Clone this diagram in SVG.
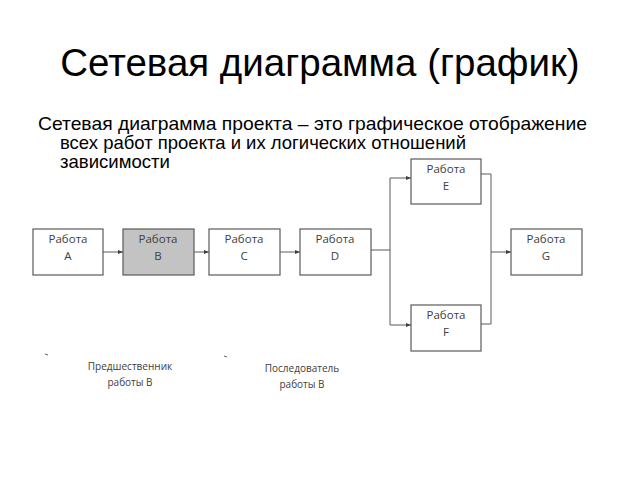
<svg xmlns="http://www.w3.org/2000/svg" width="640" height="480" viewBox="0 0 640 480">
<defs>
<style>
.box{fill:#ffffff;stroke:#5a5a5a;stroke-width:1.2}
.sel{fill:#c3c3c3}
.lbl{font-family:"Open Sans","Liberation Sans",sans-serif;font-size:11.5px;fill:#404040;text-anchor:middle}
.conn{fill:none;stroke:#5a5a5a;stroke-width:1}
.note{font-family:"Open Sans","Liberation Sans",sans-serif;font-size:10px;fill:#404040;text-anchor:middle}
.body{font-family:"Liberation Sans",Arial,sans-serif;font-size:19px;fill:#000}
</style>
<marker id="arr" markerWidth="6" markerHeight="6" refX="5" refY="3" orient="auto" markerUnits="userSpaceOnUse">
<path d="M0,1 L5,3 L0,5 Z" fill="#404040"/>
</marker>
</defs>
<rect width="640" height="480" fill="#ffffff"/>
<text x="320" y="76" font-family="Liberation Sans,Arial,sans-serif" font-size="38.5" text-anchor="middle" fill="#000">Сетевая диаграмма (график)</text>
<text class="body" x="38" y="130" textLength="549" lengthAdjust="spacingAndGlyphs">Сетевая диаграмма проекта – это графическое отображение</text>
<text class="body" x="60" y="149" textLength="406" lengthAdjust="spacingAndGlyphs">всех работ проекта и их логических отношений</text>
<text class="body" x="60" y="168" textLength="110" lengthAdjust="spacingAndGlyphs">зависимости</text>
<g id="connectors">
<line class="conn" x1="103" y1="252" x2="123" y2="252" marker-end="url(#arr)"/>
<line class="conn" x1="194" y1="252" x2="209" y2="252" marker-end="url(#arr)"/>
<line class="conn" x1="280" y1="252" x2="300" y2="252" marker-end="url(#arr)"/>
<polyline class="conn" points="371,250 390,250 390,178 411,178" marker-end="url(#arr)"/>
<polyline class="conn" points="390,250 390,325 411,325" marker-end="url(#arr)"/>
<polyline class="conn" points="481,174 491,174 491,324 481,324"/>
<line class="conn" x1="491" y1="252" x2="511" y2="252" marker-end="url(#arr)"/>
</g>
<g id="nodeA"><rect class="box" x="33" y="229" width="70" height="46"/><text class="lbl" x="68" y="243">Работа</text><text class="lbl" x="68" y="260">A</text></g>
<g id="nodeB"><rect class="box sel" x="123" y="229" width="71" height="46"/><text class="lbl" x="158" y="243">Работа</text><text class="lbl" x="158" y="260">B</text></g>
<g id="nodeC"><rect class="box" x="209" y="229" width="71" height="46"/><text class="lbl" x="244" y="243">Работа</text><text class="lbl" x="244" y="260">C</text></g>
<g id="nodeD"><rect class="box" x="300" y="229" width="71" height="46"/><text class="lbl" x="335" y="243">Работа</text><text class="lbl" x="335" y="260">D</text></g>
<g id="nodeE"><rect class="box" x="411" y="159" width="70" height="45"/><text class="lbl" x="446" y="173">Работа</text><text class="lbl" x="446" y="190">E</text></g>
<g id="nodeF"><rect class="box" x="411" y="305" width="70" height="46"/><text class="lbl" x="446" y="319">Работа</text><text class="lbl" x="446" y="336">F</text></g>
<g id="nodeG"><rect class="box" x="511" y="229" width="71" height="46"/><text class="lbl" x="546" y="243">Работа</text><text class="lbl" x="546" y="260">G</text></g>
<line x1="45" y1="354" x2="48" y2="355" stroke="#606060" stroke-width="1"/>
<line x1="224" y1="356" x2="227" y2="357" stroke="#606060" stroke-width="1"/>
<text class="note" x="130" y="370">Предшественник</text>
<text class="note" x="130" y="386">работы B</text>
<text class="note" x="302" y="372">Последователь</text>
<text class="note" x="302" y="388">работы B</text>
</svg>
